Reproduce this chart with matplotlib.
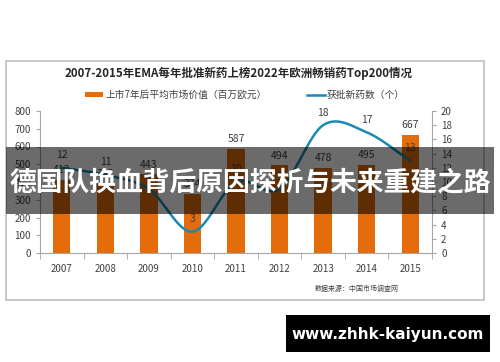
import numpy as np
import matplotlib
matplotlib.use('Agg')
import matplotlib.pyplot as plt
from matplotlib.patches import Rectangle

plt.rcParams['font.family'] = ['Noto Sans CJK SC', 'DejaVu Sans']

years = ['2007', '2008', '2009', '2010', '2011', '2012', '2013', '2014', '2015']
market_value = [413, 392, 443, 334, 587, 494, 478, 495, 667]
new_drugs = [12, 11, 9, 3, 10, 9, 18, 17, 13]

title = '2007-2015年EMA每年批准新药上榜2022年欧洲畅销药Top200情况'
bar_name = '上市7年后平均市场价值（百万欧元）'
line_name = '获批新药数（个）'
source = '数据来源：中国市场调查网'
banner = '德国队换血背后原因探析与未来重建之路'
site = 'www.zhhk-kaiyun.com'

orange = '#E46C0A'
blue = '#1A8AB2'
grey = '#404040'
axis_c = '#A6A6A6'


def smooth(xs, ys, n=30):
    # catmull-rom pass through the points, like excel's smoothed line
    px = np.concatenate([[2*xs[0]-xs[1]], xs, [2*xs[-1]-xs[-2]]])
    py = np.concatenate([[2*ys[0]-ys[1]], ys, [2*ys[-1]-ys[-2]]])
    outx, outy = [], []
    for i in range(1, len(px)-2):
        t = np.linspace(0, 1, n)
        for p, out in ((px, outx), (py, outy)):
            p0, p1, p2, p3 = p[i-1], p[i], p[i+1], p[i+2]
            out.extend(0.5*((2*p1) + (-p0+p2)*t + (2*p0-5*p1+4*p2-p3)*t**2
                            + (-p0+3*p1-3*p2+p3)*t**3))
    return np.array(outx), np.array(outy)


W, H = 500, 362
fig = plt.figure(figsize=(5, 3.62), dpi=100)
fig.patch.set_facecolor('white')

# outer chart frame
fig.add_artist(Rectangle((6/W, 1-300/H), 478/W, 239/H, transform=fig.transFigure,
                         fill=False, ec='#BFBFBF', lw=1.2))

ax = fig.add_axes([40/W, 1-253/H, 392/W, 142/H])
x = np.arange(len(years))
ax.bar(x, market_value, width=0.4, color=orange, zorder=2)
ax.set_xlim(-0.5, len(years)-0.5)
ax.set_ylim(0, 800)
ax.set_yticks(range(0, 801, 100))
ax.set_xticks(x)
ax.set_xticklabels(years)
ax.set_xticks(np.arange(-0.5, len(years)), minor=True)
ax.tick_params(axis='x', which='major', length=0, pad=8, labelsize=7, colors=grey)
ax.tick_params(axis='x', which='minor', length=4, color=axis_c)
ax.tick_params(axis='y', length=3, color=axis_c, labelsize=7, labelcolor=grey)
for s in ['top', 'right']:
    ax.spines[s].set_visible(False)
for s in ['left', 'bottom']:
    ax.spines[s].set_color(axis_c)
for xi, v in zip(x, market_value):
    ax.annotate(str(v), (xi, v), xytext=(0, 7), textcoords='offset points',
                ha='center', va='center', fontsize=7.5, color=grey, zorder=3)

ax2 = ax.twinx()
sx, sy = smooth(x.astype(float), np.array(new_drugs, dtype=float))
ax2.plot(sx, sy, color=blue, lw=1.8, zorder=4)
ax2.set_ylim(0, 20)
ax2.set_yticks(range(0, 21, 2))
ax2.tick_params(axis='y', length=3, color=axis_c, labelsize=7, labelcolor=grey)
for s in ['top', 'left', 'bottom']:
    ax2.spines[s].set_visible(False)
ax2.spines['right'].set_color(axis_c)
for xi, v in zip(x, new_drugs):
    ax2.annotate(str(v), (xi, v), xytext=(0, 9), textcoords='offset points',
                 ha='center', va='center', fontsize=7.5, color=grey)

fig.text(239/W, 1-73/H, title, ha='center', va='center', fontsize=8.3,
         fontweight='bold', color='#262626')
fig.add_artist(Rectangle((85/W, 1-97/H), 18/W, 5/H, transform=fig.transFigure,
                         color=orange, lw=0))
fig.text(105/W, 1-95/H, bar_name, ha='left', va='center', fontsize=7, color=grey)
fig.add_artist(plt.Line2D([307/W, 325/W], [1-95/H, 1-95/H], transform=fig.transFigure,
                          color=blue, lw=1.8))
fig.text(327/W, 1-95/H, line_name, ha='left', va='center', fontsize=7, color=grey)
fig.text(357/W, 1-289/H, source, ha='center', va='center', fontsize=5, color=grey)

# semi-transparent headline banner
fig.add_artist(Rectangle((6/W, 1-214/H), 488/W, 67/H, transform=fig.transFigure,
                         color='black', alpha=0.58, lw=0, zorder=10))
fig.text(250/W, 1-182/H, banner, ha='center', va='center', fontsize=19.3,
         fontweight='bold', color='white', zorder=11)

fig.add_artist(Rectangle((286/W, 1-352/H), 204/W, 37/H, transform=fig.transFigure,
                         color='black', lw=0, zorder=10))
fig.text(388/W, 1-334/H, site, ha='center', va='center', fontsize=11,
         fontweight='bold', color='white', family='DejaVu Sans', zorder=11)

fig.savefig('out.png', dpi=100)
